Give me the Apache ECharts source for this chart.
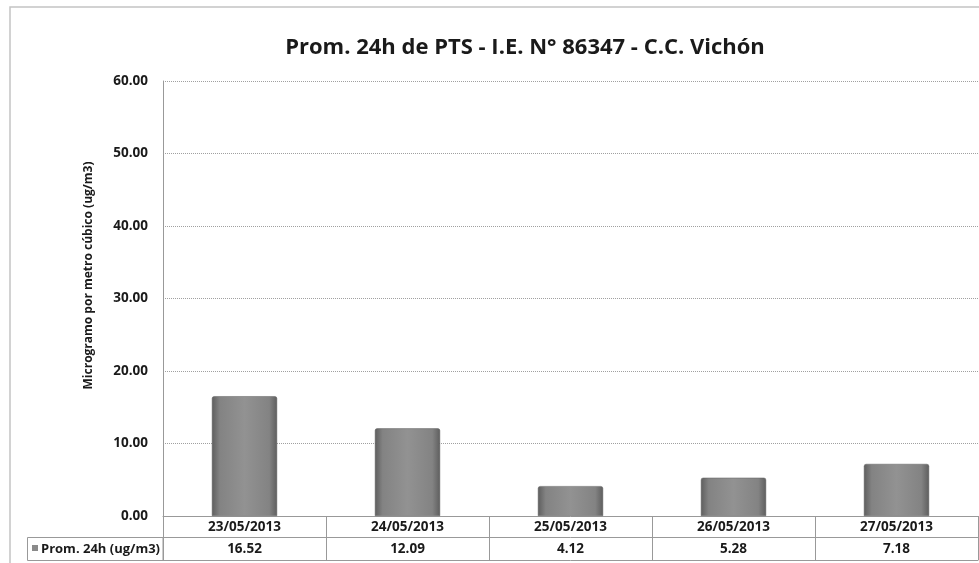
<!DOCTYPE html>
<html>
<head>
<meta charset="utf-8">
<script src="https://cdn.jsdelivr.net/npm/echarts@6/dist/echarts.min.js"></script>
<style>html,body{margin:0;padding:0;background:#fff}#c{width:979px;height:563px}</style>
</head>
<body>
<div id="c"></div>
<script>
var categories = ['23/05/2013', '24/05/2013', '25/05/2013', '26/05/2013', '27/05/2013'];
var values = [16.52, 12.09, 4.12, 5.28, 7.18];
var seriesName = 'Prom. 24h (ug/m3)';
var titleText = 'Prom. 24h de PTS - I.E. N° 86347 - C.C. Vichón';
var yName = 'Microgramo por metro cúbico (ug/m3)';

var FONT = '"Open Sans", "Noto Sans", sans-serif';
var chart = echarts.init(document.getElementById('c'));
var barGrad = new echarts.graphic.LinearGradient(0, 0, 1, 0, [
  {offset: 0, color: '#5e5e5e'},
  {offset: 0.12, color: '#838383'},
  {offset: 0.5, color: '#929292'},
  {offset: 0.88, color: '#838383'},
  {offset: 1, color: '#5e5e5e'}
]);
var option = {
  backgroundColor: '#fff',
  animation: false,
  title: {
    text: titleText, left: 520, top: 32, textAlign: 'center',
    textStyle: {fontFamily: FONT, fontSize: 22, fontWeight: 'bold', color: '#1a1a1a'}
  },
  grid: {left: 163, right: 1, top: 81, bottom: 47, containLabel: false},
  xAxis: [{
    type: 'category', data: categories, position: 'bottom',
    axisLine: {show: true, lineStyle: {color: '#999', width: 1}},
    axisTick: {show: true, interval: 0, length: 44, inside: false, lineStyle: {color: '#999'}},
    axisLabel: {interval: 0, margin: 4, fontFamily: FONT, fontSize: 13.5, fontWeight: 'bold', color: '#1a1a1a'},
    splitLine: {show: false}
  }, {
    type: 'category', data: values.map(function (v) { return v.toFixed(2); }), position: 'bottom', offset: 21,
    axisLine: {show: true, lineStyle: {color: '#999', width: 1}},
    axisTick: {show: false},
    axisLabel: {interval: 0, margin: 5, fontFamily: FONT, fontSize: 13.5, fontWeight: 'bold', color: '#1a1a1a'}
  }, {
    type: 'category', data: categories, position: 'bottom', offset: 44,
    axisLine: {show: true, lineStyle: {color: '#999', width: 1}},
    axisTick: {show: false},
    axisLabel: {show: false}
  }],
  yAxis: {
    type: 'value', min: 0, max: 60, interval: 10,
    name: yName, nameLocation: 'middle', nameGap: 68, nameRotate: 90,
    nameTextStyle: {fontFamily: FONT, fontSize: 12, fontWeight: 'bold', color: '#1a1a1a', padding: [0, 0, 0, 46]},
    axisLine: {show: true, lineStyle: {color: '#999'}},
    axisTick: {show: false},
    axisLabel: {margin: 15, fontFamily: FONT, fontSize: 13.5, fontWeight: 'bold', color: '#1a1a1a',
      formatter: function (v) { return v.toFixed(2); }},
    splitLine: {show: true, lineStyle: {color: '#a0a0a0', type: 'dotted', width: 1}}
  },
  series: [{
    name: seriesName, type: 'bar', data: values, barWidth: '40%', xAxisIndex: 0,
    itemStyle: {color: barGrad, borderColor: '#5e5e5e', borderWidth: 0.5, borderRadius: [2, 2, 0, 0]}
  }],
  graphic: [
    {type: 'rect', shape: {x: 10, y: 7, width: 975, height: 570}, style: {fill: 'none', stroke: '#c4c4c4', lineWidth: 1.5}, silent: true, z: -1},
    {type: 'rect', shape: {x: 27.5, y: 537.5, width: 135.5, height: 23}, style: {fill: 'none', stroke: '#999', lineWidth: 1}},
    {type: 'rect', shape: {x: 32, y: 545, width: 6, height: 6}, style: {fill: '#8a8a8a'}},
    {type: 'text', x: 41, y: 549, style: {text: seriesName, fontFamily: FONT, fontSize: 13, fontWeight: 'bold', fill: '#1a1a1a', textVerticalAlign: 'middle'}}
  ]
};
chart.setOption(option);
</script>
</body>
</html>
